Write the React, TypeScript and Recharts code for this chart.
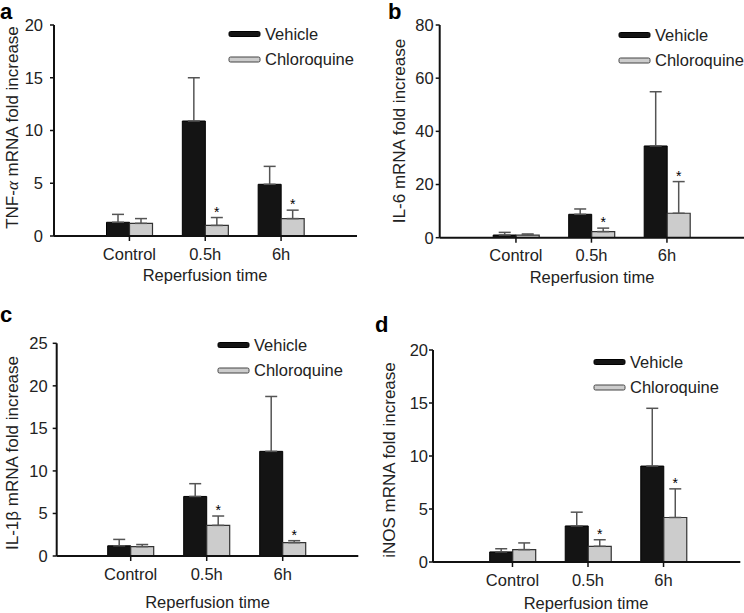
import { BarChart, Bar, XAxis, YAxis, ErrorBar, LabelList } from "recharts"

const categories = ["Control", "0.5h", "6h"]
const significant = [false, true, true]

// a: TNF-α
const tnfVehicle = [1.3, 10.9, 4.9]
const tnfVehicleSem = [0.75, 4.1, 1.7]
const tnfChloro = [1.2, 1.0, 1.65]
const tnfChloroSem = [0.45, 0.75, 0.8]

// b: IL-6
const il6Vehicle = [1.0, 8.8, 34.5]
const il6VehicleSem = [1.0, 2.0, 20.4]
const il6Chloro = [1.0, 2.3, 9.2]
const il6ChloroSem = [0.4, 1.3, 11.9]

// c: IL-1β
const il1bVehicle = [1.2, 7.0, 12.3]
const il1bVehicleSem = [0.75, 1.5, 6.45]
const il1bChloro = [1.1, 3.6, 1.57]
const il1bChloroSem = [0.25, 1.1, 0.23]

// d: iNOS
const inosVehicle = [0.95, 3.4, 9.05]
const inosVehicleSem = [0.3, 1.3, 5.45]
const inosChloro = [1.17, 1.48, 4.2]
const inosChloroSem = [0.63, 0.62, 2.7]

const ticksA = [0, 5, 10, 15, 20]
const ticksB = [0, 20, 40, 60, 80]
const ticksC = [0, 5, 10, 15, 20, 25]
const ticksD = [0, 5, 10, 15, 20]

const FONT = '"Liberation Sans", Arial, Helvetica, sans-serif'
const TEXT = "#222"
const FS = 16.5

function rows(veh: number[], vehSem: number[], chl: number[], chlSem: number[]) {
  return categories.map((name, i) => ({
    name,
    vehicle: veh[i],
    vehicleErr: [0, vehSem[i]],
    chloro: chl[i],
    chloroErr: [0, chlSem[i]],
    chloroSem: chlSem[i],
    sig: significant[i],
  }))
}

type Row = ReturnType<typeof rows>[number]

// asterisk above the chloroquine error bar, placed with the bar's own scale
const star = (data: Row[]) => (props: any) => {
  const vb = props.viewBox ?? props
  const x = vb.x ?? props.x
  const y = vb.y ?? props.y
  const w = vb.width ?? props.width
  const h = Math.abs(vb.height ?? props.height)
  const row = data[props.index]
  if (!row || !row.sig) return null
  const top = y - (row.chloroSem * h) / row.chloro
  return (
    <text x={x + w / 2} y={top - 1} textAnchor="middle" fontSize={14} fontFamily={FONT} fill="#000">*</text>
  )
}

interface PanelProps {
  left: number; top: number; axisX: number; yTop: number; yZero: number; plotRight: number
  padL: number; padR: number; ticks: number[]; tickGap: number; data: Row[]
  legendX: number; legendY: number
}

function Panel(p: PanelProps) {
  const height = p.yZero - p.top + 30
  const yMax = p.ticks[p.ticks.length - 1]
  return (
    <div style={{ position: "absolute", left: p.left, top: p.top, width: 372, height }}>
      <BarChart
        width={372}
        height={height}
        data={p.data}
        barGap={0}
        barSize={23}
        margin={{ top: p.yTop - p.top, right: p.left + 372 - p.plotRight, left: 0, bottom: 0 }}
      >
        <XAxis
          dataKey="name"
          height={30}
          interval={0}
          padding={{ left: p.padL, right: p.padR }}
          axisLine={{ stroke: "#111", strokeWidth: 2 }}
          tickLine={{ stroke: "#111", strokeWidth: 1.5 }}
          tickSize={5}
          tickMargin={7}
          tick={{ fill: TEXT, fontSize: FS, fontFamily: FONT }}
        />
        <YAxis
          width={p.axisX - p.left}
          domain={[0, yMax]}
          ticks={p.ticks}
          allowDataOverflow
          axisLine={{ stroke: "#111", strokeWidth: 2 }}
          tickLine={{ stroke: "#111", strokeWidth: 1.5 }}
          tickSize={4}
          tickMargin={p.tickGap}
          tick={{ fill: TEXT, fontSize: FS, fontFamily: FONT }}
        />
        <Bar dataKey="vehicle" fill="#141414" stroke="#000" strokeWidth={1} isAnimationActive={false}>
          <ErrorBar dataKey="vehicleErr" width={6} stroke="#555" strokeWidth={1.5} isAnimationActive={false} />
        </Bar>
        <Bar dataKey="chloro" fill="#cccccc" stroke="#333" strokeWidth={1.2} isAnimationActive={false}>
          <ErrorBar dataKey="chloroErr" width={6} stroke="#555" strokeWidth={1.5} isAnimationActive={false} />
          <LabelList dataKey="chloro" content={star(p.data)} />
        </Bar>
      </BarChart>
      <svg width={150} height={40} style={{ position: "absolute", left: p.legendX, top: p.legendY - 8, overflow: "visible" }}>
        <rect x={0} y={5.5} width={31} height={5} rx={1.5} fill="#141414" stroke="#000" strokeWidth={1} />
        <text x={36} y={13.9} fontSize={FS} fontFamily={FONT} fill={TEXT}>Vehicle</text>
        <rect x={0} y={31} width={31} height={5} rx={1.5} fill="#cccccc" stroke="#444" strokeWidth={1} />
        <text x={36} y={39.4} fontSize={FS} fontFamily={FONT} fill={TEXT}>Chloroquine</text>
      </svg>
    </div>
  )
}

const yTitles = [
  { x: 12, y: 127.5, parts: ["TNF-", "α", " mRNA fold increase"] },
  { x: 398.7, y: 131, parts: ["IL-6 mRNA fold increase"] },
  { x: 12, y: 453, parts: ["IL-1β mRNA fold increase"] },
  { x: 388.7, y: 460, parts: ["iNOS mRNA fold increase"] },
]
const xTitles = [
  { x: 205, y: 275 },
  { x: 592, y: 276.7 },
  { x: 207.5, y: 601.7 },
  { x: 586, y: 603.3 },
]
const letters = [
  { t: "a", x: 0, y: 19 },
  { t: "b", x: 388, y: 19 },
  { t: "c", x: 0, y: 322.4 },
  { t: "d", x: 375, y: 331.7 },
]

export default function App() {
  return (
    <div style={{ position: "absolute", left: 0, top: 0, width: 744, height: 613, background: "#fff", overflow: "hidden" }}>
      <Panel left={0} top={0} axisX={54} yTop={25} yZero={236} plotRight={357} padL={37.5} padR={38}
        ticks={ticksA} tickGap={7} data={rows(tnfVehicle, tnfVehicleSem, tnfChloro, tnfChloroSem)}
        legendX={228.5} legendY={34} />
      <Panel left={372} top={0} axisX={439.7} yTop={25} yZero={237.7} plotRight={744} padL={38.5} padR={39.3}
        ticks={ticksB} tickGap={2} data={rows(il6Vehicle, il6VehicleSem, il6Chloro, il6ChloroSem)}
        legendX={246.7} legendY={35} />
      <Panel left={0} top={300} axisX={56.7} yTop={343.3} yZero={556} plotRight={358.3} padL={36} padR={37.6}
        ticks={ticksC} tickGap={5} data={rows(il1bVehicle, il1bVehicleSem, il1bChloro, il1bChloroSem)}
        legendX={218.3} legendY={45} />
      <Panel left={372} top={300} axisX={433} yTop={350} yZero={562} plotRight={740.3} padL={41.7} padR={39}
        ticks={ticksD} tickGap={1} data={rows(inosVehicle, inosVehicleSem, inosChloro, inosChloroSem)}
        legendX={221.7} legendY={61.7} />
      <svg width={744} height={613} style={{ position: "absolute", left: 0, top: 0, pointerEvents: "none" }}>
        {yTitles.map((t, i) => (
          <text key={i} x={t.x} y={t.y} transform={`rotate(-90 ${t.x} ${t.y})`} textAnchor="middle" dominantBaseline="central"
            fontSize={17} fontFamily={FONT} fill={TEXT}>
            {t.parts.map((s, j) => s === "α"
              ? <tspan key={j} fontStyle="italic" fontFamily='"Liberation Serif", serif'>{s}</tspan>
              : <tspan key={j}>{s}</tspan>)}
          </text>
        ))}
        {xTitles.map((t, i) => (
          <text key={i} x={t.x} y={t.y + 5.9} textAnchor="middle" fontSize={FS} fontFamily={FONT} fill={TEXT}>Reperfusion time</text>
        ))}
        {letters.map((l) => (
          <text key={l.t} x={l.x} y={l.y} fontSize={22} fontWeight="bold" fontFamily={FONT} fill="#000">{l.t}</text>
        ))}
      </svg>
    </div>
  )
}
